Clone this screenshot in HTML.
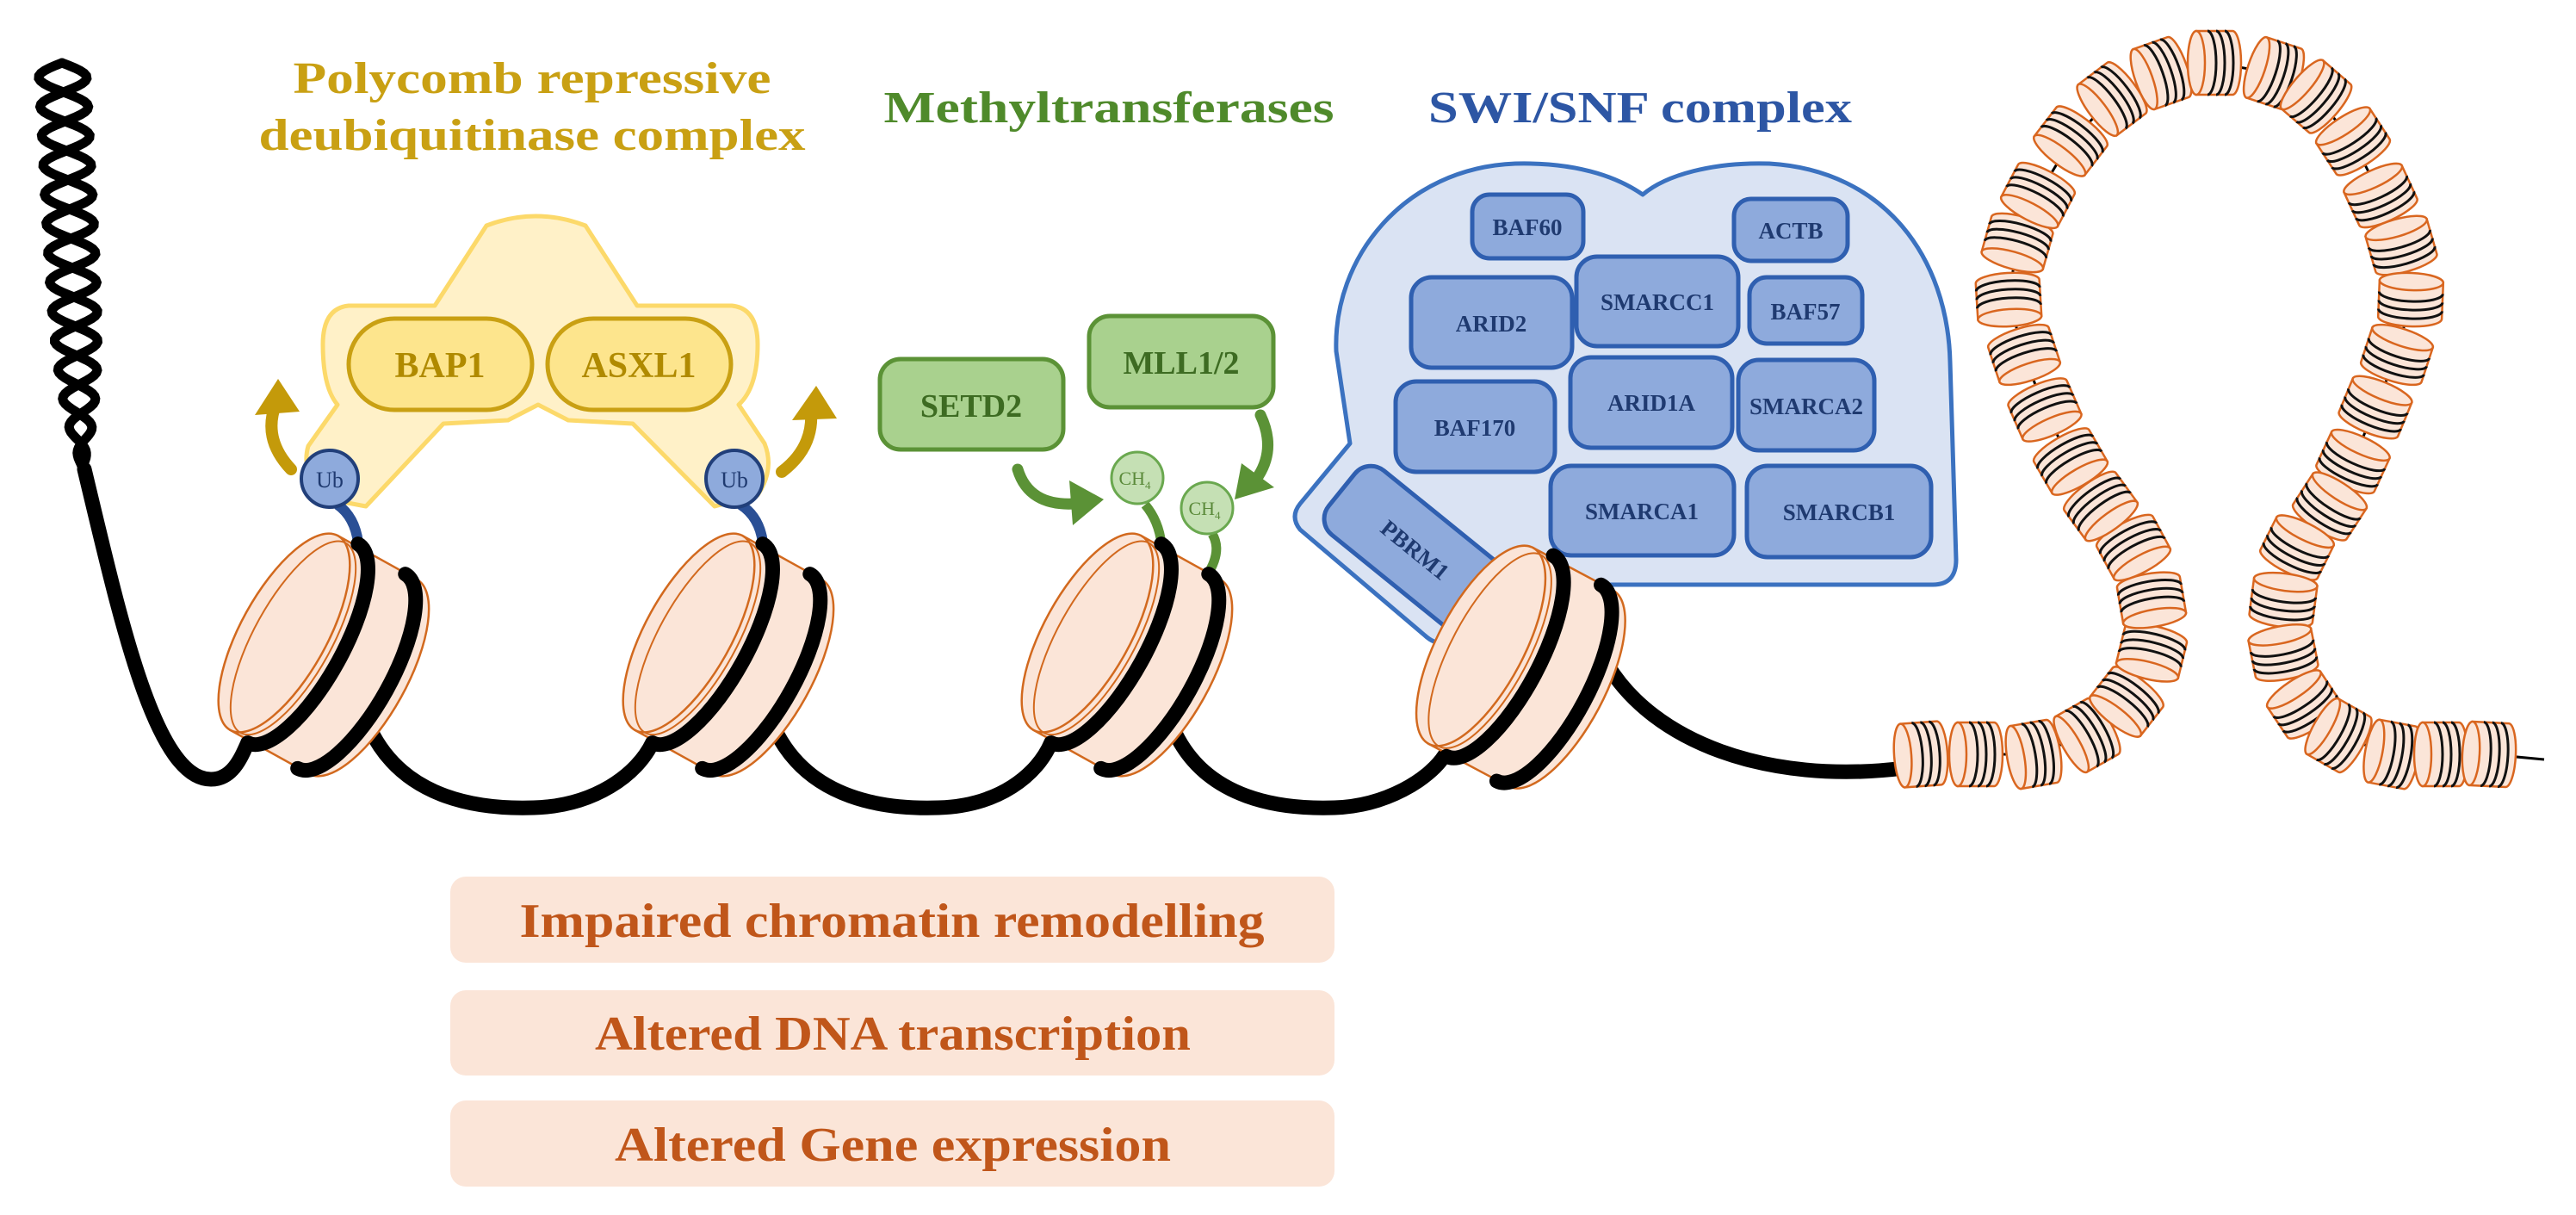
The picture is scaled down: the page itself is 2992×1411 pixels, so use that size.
<!DOCTYPE html>
<html><head><meta charset="utf-8"><style>
html,body{margin:0;padding:0;background:#fff;}
svg{display:block}
text{font-family:"Liberation Serif","DejaVu Serif",serif;font-weight:bold;}
</style></head><body>
<svg id="s" width="2992" height="1411" viewBox="0 0 2992 1411" xmlns="http://www.w3.org/2000/svg">
<defs>
<g id="nuc">
  <path d="M0,-129 L105,-129 A50 129 0 0 1 105,129 L0,129 Z" fill="#fbe5d8" stroke="#d2691e" stroke-width="2.5"/>
  <ellipse cx="0" cy="0" rx="50" ry="129" fill="#fbe5d8" stroke="#d2691e" stroke-width="2.5"/>
  <ellipse cx="12" cy="0" rx="45" ry="126" fill="none" stroke="#d2691e" stroke-width="2"/>
  <path d="M25,-132 A46 132 0 0 1 25,132" fill="none" stroke="#000" stroke-width="17" stroke-linecap="round"/>
  <path d="M90,-128 A46 128 0 0 1 90,130" fill="none" stroke="#000" stroke-width="17" stroke-linecap="round"/>
</g>
</defs>

<text x="618" y="108" font-size="52" fill="#c9a013" text-anchor="middle" textLength="555" lengthAdjust="spacingAndGlyphs">Polycomb repressive</text>
<text x="618" y="174" font-size="52" fill="#c9a013" text-anchor="middle" textLength="635" lengthAdjust="spacingAndGlyphs">deubiquitinase complex</text>
<text x="1288" y="142" font-size="52" fill="#4f8a2b" text-anchor="middle" textLength="523" lengthAdjust="spacingAndGlyphs">Methyltransferases</text>
<text x="1905" y="142" font-size="52" fill="#2d56a4" text-anchor="middle" textLength="492" lengthAdjust="spacingAndGlyphs">SWI/SNF complex</text>

<g id="twist" fill="none" stroke="#000" stroke-width="11" stroke-linecap="round"></g>

<path d="M565,262 Q622,240 680,262 L740,355 L850,355 Q880,358 880,400 Q880,450 858,470 L888,515 Q900,545 880,575 L830,588 L735,492 L660,488 L625,470 L590,488 L515,492 L425,588 L372,578 Q350,545 358,518 L392,470 Q375,450 375,400 Q375,358 405,355 L505,355 Z" fill="#fff1c8" stroke="#fcd96a" stroke-width="5" stroke-linejoin="round"/>
<rect x="405" y="370" width="213" height="106" rx="53" fill="#fde58d" stroke="#c9a013" stroke-width="5"/>
<rect x="636" y="370" width="213" height="106" rx="53" fill="#fde58d" stroke="#c9a013" stroke-width="5"/>
<text x="511" y="438" font-size="42" fill="#b08a00" text-anchor="middle">BAP1</text>
<text x="742" y="438" font-size="42" fill="#b08a00" text-anchor="middle">ASXL1</text>

<path d="M338,545 Q305,510 320,470" fill="none" stroke="#c49a0a" stroke-width="14" stroke-linecap="round"/>
<polygon points="323,440 296,482 348,478" fill="#c49a0a"/>
<path d="M908,548 Q945,520 942,478" fill="none" stroke="#c49a0a" stroke-width="14" stroke-linecap="round"/>
<polygon points="948,448 920,488 972,486" fill="#c49a0a"/>

<path d="M1552,408 C1548,300 1630,195 1760,190 C1840,188 1885,210 1908,226 C1935,203 1990,188 2055,190 C2190,198 2262,300 2265,420 L2272,650 Q2272,679 2245,679 L1800,679 L1690,745 Q1670,752 1655,738 L1510,615 Q1498,600 1510,585 L1568,515 Z" fill="#dae3f3" stroke="#3b72c0" stroke-width="5" stroke-linejoin="round"/>
<g fill="#8eaadc" stroke="#2f5fb0" stroke-width="5">
<rect x="1710" y="226" width="129" height="74" rx="20"/>
<rect x="2014" y="231" width="132" height="72" rx="20"/>
<rect x="1831" y="298" width="188" height="104" rx="24"/>
<rect x="1639" y="322" width="187" height="105" rx="24"/>
<rect x="2032" y="322" width="131" height="77" rx="20"/>
<rect x="1824" y="415" width="188" height="105" rx="24"/>
<rect x="2019" y="418" width="158" height="105" rx="24"/>
<rect x="1621" y="443" width="185" height="105" rx="24"/>
<rect x="1801" y="541" width="213" height="104" rx="24"/>
<rect x="2029" y="541" width="214" height="106" rx="24"/>
<rect x="1534" y="590" width="220" height="96" rx="24" transform="rotate(39 1644 638)"/>
</g>
<g font-size="27" fill="#1f3a70" text-anchor="middle">
<text x="1774" y="273">BAF60</text>
<text x="2080" y="277">ACTB</text>
<text x="1925" y="360">SMARCC1</text>
<text x="1732" y="385">ARID2</text>
<text x="2097" y="371">BAF57</text>
<text x="1918" y="477">ARID1A</text>
<text x="2098" y="481">SMARCA2</text>
<text x="1713" y="506">BAF170</text>
<text x="1907" y="603">SMARCA1</text>
<text x="2136" y="604">SMARCB1</text>
<text x="1644" y="648" transform="rotate(39 1644 638)">PBRM1</text>
</g>

<rect x="1022" y="417" width="213" height="105" rx="24" fill="#a9d18e" stroke="#5b9236" stroke-width="5"/>
<rect x="1265" y="367" width="214" height="106" rx="24" fill="#a9d18e" stroke="#5b9236" stroke-width="5"/>
<text x="1128" y="484" font-size="38" fill="#3d6b22" text-anchor="middle">SETD2</text>
<text x="1372" y="434" font-size="38" fill="#3d6b22" text-anchor="middle">MLL1/2</text>
<path d="M1182,545 Q1195,588 1248,585" fill="none" stroke="#5b9236" stroke-width="13" stroke-linecap="round"/>
<polygon points="1282,580 1242,558 1246,610" fill="#5b9236"/>
<path d="M1464,482 Q1482,520 1462,552" fill="none" stroke="#5b9236" stroke-width="13" stroke-linecap="round"/>
<polygon points="1434,580 1442,538 1480,566" fill="#5b9236"/>

<g fill="none" stroke="#000" stroke-width="17" stroke-linecap="round">
<path d="M98,545 C140,720 180,905 245,905 C270,905 280,880 288,862"/>
<path d="M430,847 C470,930 560,940 620,938 C690,936 740,900 758,862"/>
<path d="M900,847 C940,930 1030,940 1090,938 C1160,936 1205,900 1221,862"/>
<path d="M1363,847 C1400,930 1490,940 1550,938 C1610,936 1660,905 1678,877"/>
<path d="M1867,772 C1920,860 2050,912 2212,892"/>
</g>

<path d="M392,586 Q412,600 416,630" fill="none" stroke="#2a4f95" stroke-width="12"/>
<path d="M860,586 Q882,600 886,630" fill="none" stroke="#2a4f95" stroke-width="12"/>
<path d="M1330,586 Q1346,605 1349,632" fill="none" stroke="#5b9236" stroke-width="11"/>
<path d="M1408,620 Q1420,640 1402,668" fill="none" stroke="#5b9236" stroke-width="11"/>

<use href="#nuc" transform="translate(330,735) rotate(29)"/>
<use href="#nuc" transform="translate(800,735) rotate(29)"/>
<use href="#nuc" transform="translate(1263,735) rotate(29)"/>
<use href="#nuc" transform="translate(1720,750) rotate(28)"/>

<circle cx="383" cy="556" r="33" fill="#8eaadc" stroke="#213f7a" stroke-width="4"/>
<circle cx="853" cy="556" r="33" fill="#8eaadc" stroke="#213f7a" stroke-width="4"/>
<text x="383" y="566" font-size="26" fill="#1f3a70" text-anchor="middle" style="font-weight:normal">Ub</text>
<text x="853" y="566" font-size="26" fill="#1f3a70" text-anchor="middle" style="font-weight:normal">Ub</text>
<circle cx="1321" cy="555" r="30" fill="#c5e0b4" stroke="#6aa84f" stroke-width="3"/>
<circle cx="1402" cy="590" r="30" fill="#c5e0b4" stroke="#6aa84f" stroke-width="3"/>
<text x="1318" y="563" font-size="22" fill="#5b8a3a" text-anchor="middle" style="font-weight:normal">CH<tspan font-size="13" dy="5">4</tspan></text>
<text x="1399" y="598" font-size="22" fill="#5b8a3a" text-anchor="middle" style="font-weight:normal">CH<tspan font-size="13" dy="5">4</tspan></text>

<g id="omega"></g>

<rect x="523" y="1018" width="1027" height="100" rx="18" fill="#fbe5d8"/>
<rect x="523" y="1150" width="1027" height="99" rx="18" fill="#fbe5d8"/>
<rect x="523" y="1278" width="1027" height="100" rx="18" fill="#fbe5d8"/>
<text x="1036" y="1088" font-size="56" fill="#c0561a" text-anchor="middle" textLength="865" lengthAdjust="spacingAndGlyphs">Impaired chromatin remodelling</text>
<text x="1037" y="1219" font-size="56" fill="#c0561a" text-anchor="middle" textLength="692" lengthAdjust="spacingAndGlyphs">Altered DNA transcription</text>
<text x="1037" y="1348" font-size="56" fill="#c0561a" text-anchor="middle" textLength="646" lengthAdjust="spacingAndGlyphs">Altered Gene expression</text>
</svg>
<script>
(function(){
var NS="http://www.w3.org/2000/svg";
function el(n,a,p){var e=document.createElementNS(NS,n);for(var k in a)e.setAttribute(k,a[k]);p.appendChild(e);return e;}
var tw=document.getElementById('twist');
for(var s=0;s<2;s++){var d="";for(var y=73;y<=545;y+=3){var f=(y-73)/472;var cx=72+f*24;var A=28*(1-Math.pow(f,6));var x=cx+A*Math.sin(2*Math.PI*(y-73)/68+s*Math.PI);d+=(d?"L":"M")+x.toFixed(1)+","+y;}el('path',{d:d},tw);}
var P=[[2212,882],[2231,876],[2295,876],[2362,876],[2424,854],[2470,815],[2499,758],[2499,697],[2478,636],[2440,588],[2405,536],[2375,476],[2351,412],[2333,348],[2343,282],[2367,227],[2405,164],[2453,115],[2510,85],[2572,73],[2641,85],[2690,112],[2733,164],[2765,227],[2789,285],[2800,348],[2784,412],[2759,473],[2733,536],[2706,588],[2668,636],[2652,697],[2652,758],[2676,818],[2716,854],[2778,876],[2835,876],[2891,876],[2955,882]];
var g=document.getElementById('omega');
var d="";for(var i=0;i<P.length;i++){d+=(i?"L":"M")+P[i][0]+","+P[i][1];}
el('path',{d:d,fill:"none",stroke:"#000","stroke-width":"3"},g);
for(var i=1;i<P.length-1;i++){
 var a=P[i-1],b=P[i+1];var ang=Math.atan2(b[1]-a[1],b[0]-a[0])*180/Math.PI;
 var n=el('g',{transform:"translate("+P[i][0]+","+P[i][1]+") rotate("+ang.toFixed(1)+")"},g);
 el('path',{d:"M-21,-37 L21,-37 A10 37 0 0 1 21,37 L-21,37 Z",fill:"#fbe5d8",stroke:"#d9661f","stroke-width":"2.5"},n);
 el('ellipse',{cx:-21,cy:0,rx:10,ry:37,fill:"#fbe5d8",stroke:"#d9661f","stroke-width":"2.5"},n);
 [-8,2,12].forEach(function(x){el('path',{d:"M"+x+",-37 A10 37 0 0 1 "+x+",37",fill:"none",stroke:"#111","stroke-width":"3"},n);});
}
})();
</script>
</body></html>
